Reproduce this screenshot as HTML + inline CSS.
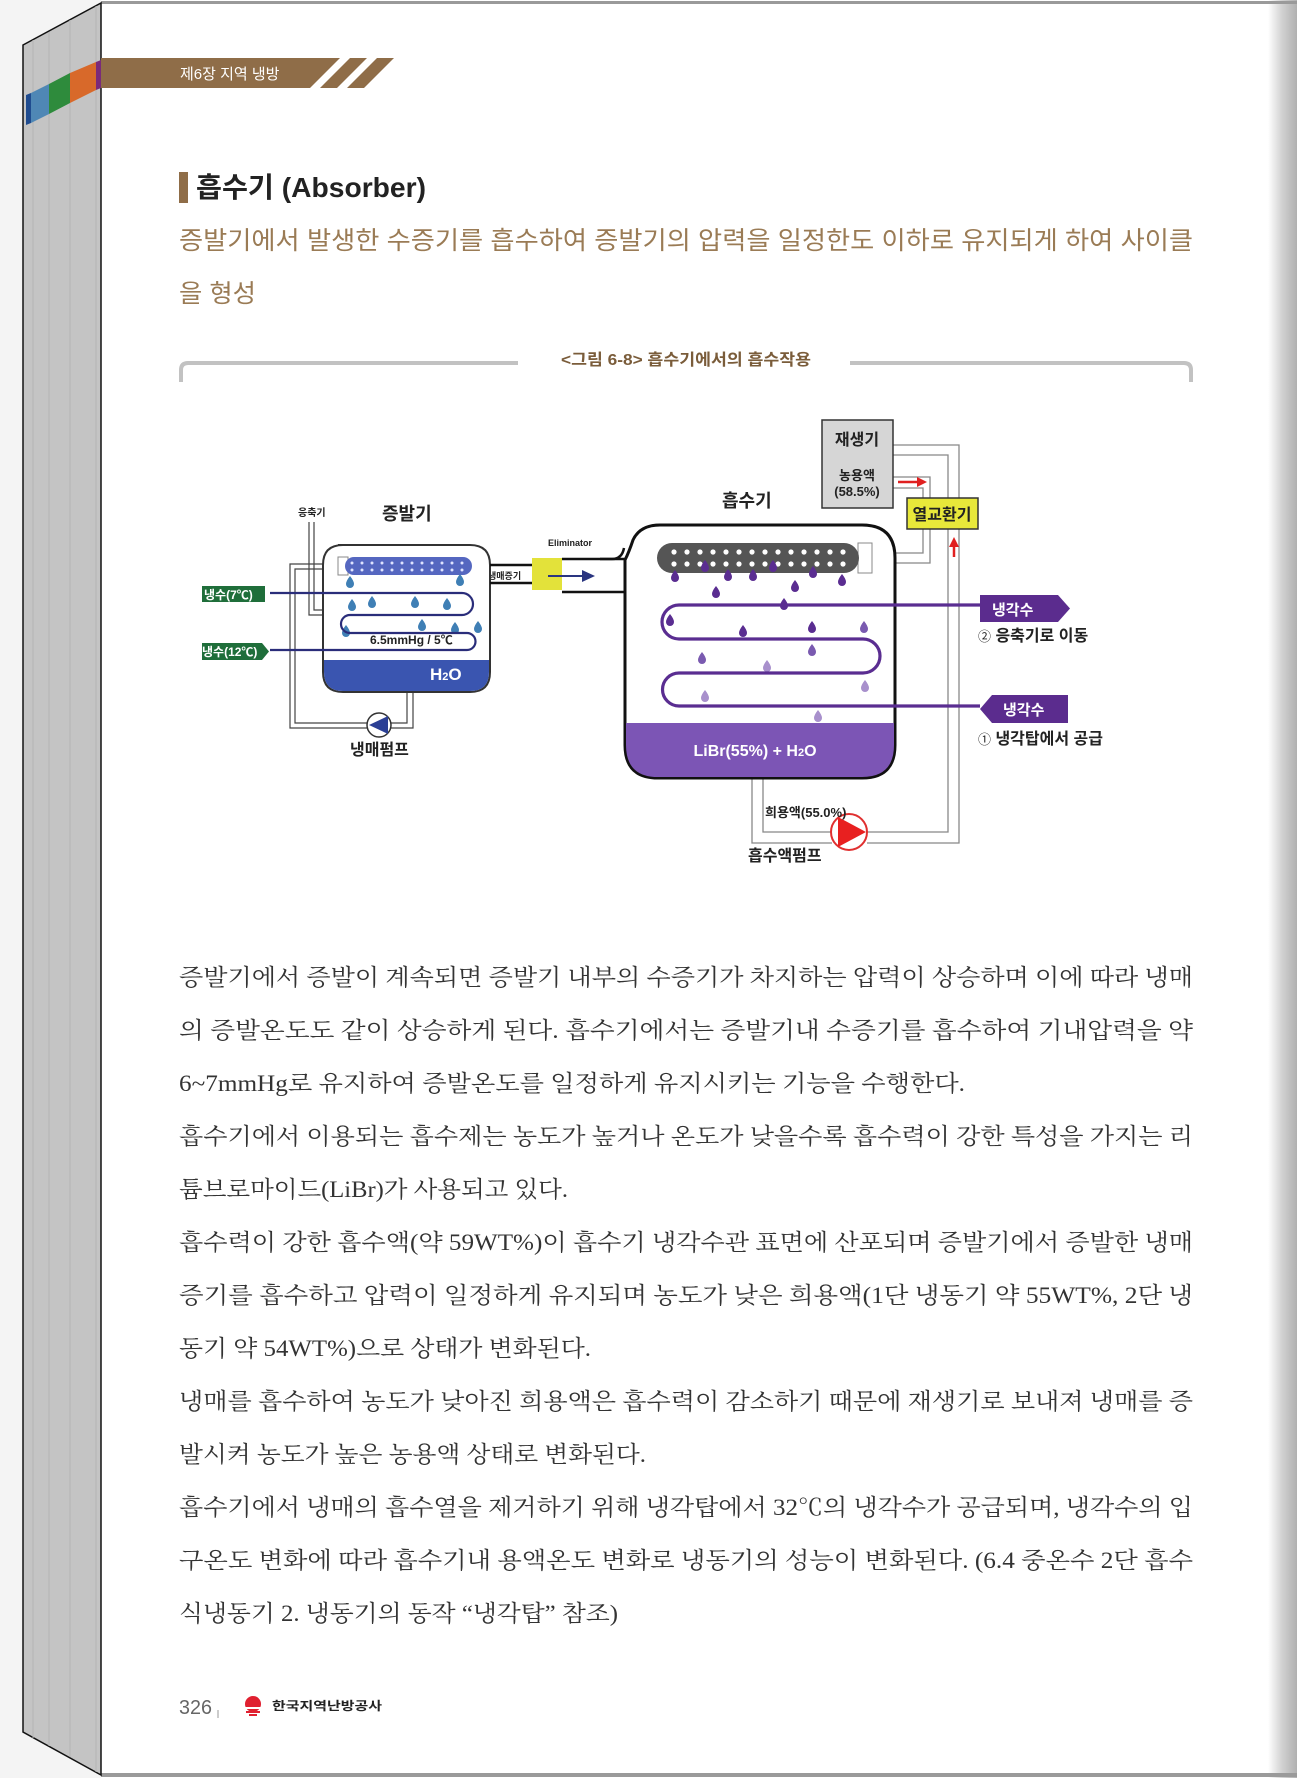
<!DOCTYPE html>
<html><head><meta charset="utf-8"><style>
html,body{margin:0;padding:0;background:#f4f4f4;}
svg{display:block;}
.kr{font-family:"Liberation Sans","Noto Sans CJK KR",sans-serif;}
.sr{font-family:"Liberation Serif","Noto Serif CJK SC",serif;}
</style></head><body>
<svg width="1297" height="1778" viewBox="0 0 1297 1778" xmlns="http://www.w3.org/2000/svg">
<defs>
<linearGradient id="rs" x1="0" x2="1" y1="0" y2="0"><stop offset="0" stop-color="#ffffff"/><stop offset="0.5" stop-color="#d0d0d0"/><stop offset="1" stop-color="#b0b0b0"/></linearGradient>
<path id="dp" d="M0,-6 Q4,-1 4,2 A4,4 0 0 1 -4,2 Q-4,-1 0,-6Z"/>
</defs>
<!-- page -->
<rect x="101" y="0" width="1196" height="1778" fill="#fff"/>
<rect x="1268" y="0" width="29" height="1778" fill="url(#rs)"/>
<rect x="101" y="1" width="1196" height="3" fill="#9a9a9a"/>
<rect x="101" y="1773" width="1196" height="4" fill="#9a9a9a"/>
<!-- spine -->
<polygon points="23,45 101,3 101,1775 23,1732" fill="#c4c4c4" stroke="#111" stroke-width="1.5"/>
<g stroke="#b5b5b5" stroke-width="1"><line x1="33" y1="40" x2="33" y2="1738"/><line x1="49" y1="32" x2="49" y2="1746"/><line x1="70" y1="20" x2="70" y2="1757"/><line x1="96" y1="6" x2="96" y2="1772"/></g>
<polygon points="26,95 31,93 31,123 26,125" fill="#1f4b8f"/>
<polygon points="31,93 49,84 49,114 31,123" fill="#4f87b5"/>
<polygon points="49,84 70,73 70,103 49,114" fill="#2e8b3c"/>
<polygon points="70,73 96,62 96,90 70,103" fill="#d8692a"/>
<polygon points="96,62 101,60 101,88 96,90" fill="#7a2a7a"/>
<!-- header band -->
<polygon points="101,58 340,58 310,88 101,88" fill="#8f6d48"/>
<polygon points="350,58 367,58 337,88 320,88" fill="#8f6d48"/>
<polygon points="377,58 394,58 364,88 347,88" fill="#8f6d48"/>
<text x="180" y="79" class="kr" font-size="15" fill="#fff">제6장 지역 냉방</text>
<!-- title -->
<rect x="179" y="172" width="9" height="31" fill="#8f6d48"/>
<text x="196" y="197" class="kr" font-size="28" font-weight="bold" fill="#222" textLength="230" lengthAdjust="spacingAndGlyphs">흡수기 (Absorber)</text>
<text x="179" y="249" class="kr" font-size="25" fill="#9a7b55" textLength="1014" lengthAdjust="spacingAndGlyphs">증발기에서 발생한 수증기를 흡수하여 증발기의 압력을 일정한도 이하로 유지되게 하여 사이클</text>
<text x="179" y="302" class="kr" font-size="25" fill="#9a7b55" textLength="77" lengthAdjust="spacingAndGlyphs">을 형성</text>
<!-- caption frame -->
<path d="M181,382 L181,370 Q181,363 188,363 L518,363" fill="none" stroke="#c2c2c2" stroke-width="4"/>
<path d="M850,363 L1184,363 Q1191,363 1191,370 L1191,382" fill="none" stroke="#c2c2c2" stroke-width="4"/>
<text x="561" y="365" class="kr" font-size="16" font-weight="bold" fill="#7a5c3a" textLength="250" lengthAdjust="spacingAndGlyphs">&lt;그림 6-8&gt; 흡수기에서의 흡수작용</text>

<!-- ===== Evaporator ===== -->
<g class="kr" font-weight="bold" fill="#222">
<text x="298" y="516" font-size="10">응축기</text>
<text x="382" y="520" font-size="18">증발기</text>
<text x="548" y="546" font-size="9">Eliminator</text>
<text x="488" y="579" font-size="9">냉매증기</text>
<text x="350" y="755" font-size="16">냉매펌프</text>
</g>
<!-- condenser pipes -->
<path d="M309,522 V615 H323 M314,522 V610 H323" fill="none" stroke="#444" stroke-width="1.2"/>
<!-- circulation pipes -->
<path d="M338,564 H290 V728 H367 M338,569 H295 V723 H367 M391,728 H413 V691 M391,723 H407 V691" fill="none" stroke="#444" stroke-width="1.2"/>
<!-- box -->
<path d="M338,545 H470 Q490,545 490,565 V672 Q490,692 470,692 H343 Q323,692 323,672 V565 Q323,545 343,545Z" fill="#fff" stroke="#333" stroke-width="2"/>
<path d="M324,660 H489 V672 Q489,691 470,691 H343 Q324,691 324,672Z" fill="#3a55b0"/>
<text x="430" y="680" class="kr" font-size="17" font-weight="bold" fill="#fff">H<tspan font-size="11">2</tspan>O</text>
<!-- spray tube -->
<rect x="338" y="557" width="10" height="18" fill="#fff" stroke="#888" stroke-width="1"/>
<rect x="345" y="557" width="127" height="18" rx="9" fill="#5567c0"/>
<g fill="#dfe4ff">
<circle cx="352" cy="563" r="1.5"/><circle cx="362" cy="563" r="1.5"/><circle cx="372" cy="563" r="1.5"/><circle cx="382" cy="563" r="1.5"/><circle cx="392" cy="563" r="1.5"/><circle cx="402" cy="563" r="1.5"/><circle cx="412" cy="563" r="1.5"/><circle cx="422" cy="563" r="1.5"/><circle cx="432" cy="563" r="1.5"/><circle cx="442" cy="563" r="1.5"/><circle cx="452" cy="563" r="1.5"/><circle cx="462" cy="563" r="1.5"/>
<circle cx="352" cy="570" r="1.5"/><circle cx="362" cy="570" r="1.5"/><circle cx="372" cy="570" r="1.5"/><circle cx="382" cy="570" r="1.5"/><circle cx="392" cy="570" r="1.5"/><circle cx="402" cy="570" r="1.5"/><circle cx="412" cy="570" r="1.5"/><circle cx="422" cy="570" r="1.5"/><circle cx="432" cy="570" r="1.5"/><circle cx="442" cy="570" r="1.5"/><circle cx="452" cy="570" r="1.5"/><circle cx="462" cy="570" r="1.5"/>
</g>
<g fill="#3f7fb5">
<use href="#dp" x="350" y="582"/><use href="#dp" x="372" y="602"/><use href="#dp" x="415" y="602"/><use href="#dp" x="447" y="604"/><use href="#dp" x="460" y="580"/><use href="#dp" x="455" y="628"/><use href="#dp" x="422" y="625"/><use href="#dp" x="346" y="631"/><use href="#dp" x="352" y="605"/><use href="#dp" x="478" y="627"/>
</g>
<!-- chilled water coil -->
<path d="M270,593 H462 A11,11 0 0 1 462,615 H350 A9,9 0 0 0 350,633 H467 A8.5,8.5 0 0 1 467,650 H270" fill="none" stroke="#2a2d7a" stroke-width="2.2"/>
<text x="370" y="644" class="kr" font-size="12" font-weight="bold" fill="#222">6.5mmHg / 5℃</text>
<polygon points="202,586 265,586 265,602 202,602" fill="#1f6e3a"/>
<text x="204" y="599" class="kr" font-size="12" font-weight="bold" fill="#fff">냉수(7℃)</text>
<polygon points="202,643 262,643 269,651.5 262,660 202,660" fill="#1f6e3a"/>
<text x="202" y="656" class="kr" font-size="12" font-weight="bold" fill="#fff">냉수(12℃)</text>
<!-- pump -->
<circle cx="379" cy="725" r="12" fill="#fff" stroke="#333" stroke-width="1.5"/>
<polygon points="369,725 388,716 388,734" fill="#2b3f95"/>
<!-- outlet pipe -->
<path d="M490,565 H532 M490,583 H532 M562,559 H625 M562,592 H625" stroke="#111" stroke-width="2.5"/>
<rect x="532" y="558" width="30" height="32" fill="#e3e23a"/>
<line x1="548" y1="576" x2="585" y2="576" stroke="#2a3580" stroke-width="2"/>
<polygon points="595,576 582,570 582,582" fill="#2a3580"/>

<!-- ===== Absorber ===== -->
<text x="722" y="507" class="kr" font-size="18" font-weight="bold" fill="#222">흡수기</text>
<!-- gray pipes -->
<g fill="none" stroke="#888" stroke-width="1.3">
<path d="M893,445 H959 V843 H867"/>
<path d="M893,455 H948 V832 H867"/>
<path d="M872,563 H930 V477 H893"/>
<path d="M872,553 H923 V488 H893"/>
<path d="M752,778 V843 H832 M763,778 V832 H832"/>
</g>
<!-- absorber box -->
<path d="M625,560 V745 Q625,778 658,778 H862 Q895,778 895,745 V558 Q895,525 862,525 H660 Q640,525 633,540 Q629,552 625,560Z" fill="#fff" stroke="#111" stroke-width="3"/>
<path d="M626,723 H894 V745 Q894,777 862,777 H658 Q626,777 626,745Z" fill="#7c55b5"/>
<text x="755" y="756" class="kr" font-size="16" font-weight="bold" fill="#fff" text-anchor="middle">LiBr(55%) + H<tspan font-size="11">2</tspan>O</text>
<path d="M600,559 H612 Q622,559 624,548" fill="none" stroke="#111" stroke-width="2.5"/>
<!-- gray tube -->
<rect x="858" y="543" width="14" height="30" fill="#fff" stroke="#888"/>
<rect x="657" y="543" width="202" height="30" rx="15" fill="#555"/>
<g fill="#fff">
<circle cx="674" cy="552" r="2.6"/><circle cx="687" cy="552" r="2.6"/><circle cx="700" cy="552" r="2.6"/><circle cx="713" cy="552" r="2.6"/><circle cx="726" cy="552" r="2.6"/><circle cx="739" cy="552" r="2.6"/><circle cx="752" cy="552" r="2.6"/><circle cx="765" cy="552" r="2.6"/><circle cx="778" cy="552" r="2.6"/><circle cx="791" cy="552" r="2.6"/><circle cx="804" cy="552" r="2.6"/><circle cx="817" cy="552" r="2.6"/><circle cx="830" cy="552" r="2.6"/><circle cx="843" cy="552" r="2.6"/>
<circle cx="674" cy="564" r="2.6"/><circle cx="687" cy="564" r="2.6"/><circle cx="700" cy="564" r="2.6"/><circle cx="713" cy="564" r="2.6"/><circle cx="726" cy="564" r="2.6"/><circle cx="739" cy="564" r="2.6"/><circle cx="752" cy="564" r="2.6"/><circle cx="765" cy="564" r="2.6"/><circle cx="778" cy="564" r="2.6"/><circle cx="791" cy="564" r="2.6"/><circle cx="804" cy="564" r="2.6"/><circle cx="817" cy="564" r="2.6"/><circle cx="830" cy="564" r="2.6"/><circle cx="843" cy="564" r="2.6"/>
</g>
<g fill="#5a2d91">
<use href="#dp" x="675" y="576"/><use href="#dp" x="705" y="566"/><use href="#dp" x="728" y="575"/><use href="#dp" x="753" y="575"/><use href="#dp" x="773" y="566"/><use href="#dp" x="813" y="572"/><use href="#dp" x="842" y="580"/><use href="#dp" x="716" y="592"/><use href="#dp" x="795" y="586"/><use href="#dp" x="784" y="604"/><use href="#dp" x="670" y="620"/><use href="#dp" x="743" y="631"/><use href="#dp" x="812" y="627"/>
</g>
<g fill="#7a5ab0"><use href="#dp" x="864" y="627"/><use href="#dp" x="812" y="650"/><use href="#dp" x="702" y="658"/></g>
<g fill="#a890cc"><use href="#dp" x="767" y="666"/><use href="#dp" x="865" y="686"/><use href="#dp" x="705" y="696"/><use href="#dp" x="818" y="716"/></g>
<!-- coil -->
<path d="M980,605 H679 A17,17 0 0 0 679,639 H863 A17,17 0 0 1 863,673 H679 A16.5,16.5 0 0 0 679,706 H980" fill="none" stroke="#5a2d91" stroke-width="3.2"/>
<polygon points="980,595 1058,595 1070,608.5 1058,622 980,622" fill="#5b2c8e"/>
<text x="992" y="615" class="kr" font-size="15" font-weight="bold" fill="#fff">냉각수</text>
<polygon points="992,695 1068,695 1068,723 992,723 980,709" fill="#5b2c8e"/>
<text x="1003" y="715" class="kr" font-size="15" font-weight="bold" fill="#fff">냉각수</text>
<text x="1005" y="641" class="kr" font-size="16" font-weight="bold" fill="#222"><tspan font-weight="normal" font-size="13" x="978">②</tspan> 응축기로 이동</text>
<text x="1005" y="744" class="kr" font-size="16" font-weight="bold" fill="#222"><tspan font-weight="normal" font-size="13" x="978">①</tspan> 냉각탑에서 공급</text>
<!-- regenerator -->
<rect x="822" y="420" width="71" height="88" fill="#d6d6d6" stroke="#333" stroke-width="1.5"/>
<text x="857" y="445" class="kr" font-size="16" font-weight="bold" fill="#222" text-anchor="middle">재생기</text>
<text x="857" y="480" class="kr" font-size="13" font-weight="bold" fill="#222" text-anchor="middle">농용액</text>
<text x="857" y="496" class="kr" font-size="13" font-weight="bold" fill="#222" text-anchor="middle">(58.5%)</text>
<line x1="898" y1="482" x2="918" y2="482" stroke="#e02020" stroke-width="2.5"/>
<polygon points="927,482 917,477 917,487" fill="#e02020"/>
<rect x="907" y="498" width="71" height="31" fill="#e8e83a" stroke="#333" stroke-width="1.5"/>
<text x="942" y="520" class="kr" font-size="16" font-weight="bold" fill="#222" text-anchor="middle">열교환기</text>
<line x1="954" y1="557" x2="954" y2="545" stroke="#e02020" stroke-width="2.5"/>
<polygon points="954,537 949,547 959,547" fill="#e02020"/>
<!-- pump -->
<circle cx="849" cy="832" r="18" fill="#fff" stroke="#e03030" stroke-width="2"/>
<polygon points="838,817 866,832 838,847" fill="#e82020"/>
<text x="765" y="817" class="kr" font-size="13" font-weight="bold" fill="#222">희용액(55.0%)</text>
<text x="748" y="861" class="kr" font-size="16" font-weight="bold" fill="#222">흡수액펌프</text>

<!-- body text -->
<g class="sr" font-size="23" fill="#333">
<text x="179" y="985" textLength="1014" lengthAdjust="spacingAndGlyphs">증발기에서 증발이 계속되면 증발기 내부의 수증기가 차지하는 압력이 상승하며 이에 따라 냉매</text>
<text x="179" y="1038" textLength="1014" lengthAdjust="spacingAndGlyphs">의 증발온도도 같이 상승하게 된다. 흡수기에서는 증발기내 수증기를 흡수하여 기내압력을 약</text>
<text x="179" y="1091" textLength="786" lengthAdjust="spacingAndGlyphs">6~7mmHg로 유지하여 증발온도를 일정하게 유지시키는 기능을 수행한다.</text>
<text x="179" y="1144" textLength="1014" lengthAdjust="spacingAndGlyphs">흡수기에서 이용되는 흡수제는 농도가 높거나 온도가 낮을수록 흡수력이 강한 특성을 가지는 리</text>
<text x="179" y="1197" textLength="389" lengthAdjust="spacingAndGlyphs">튬브로마이드(LiBr)가 사용되고 있다.</text>
<text x="179" y="1250" textLength="1014" lengthAdjust="spacingAndGlyphs">흡수력이 강한 흡수액(약 59WT%)이 흡수기 냉각수관 표면에 산포되며 증발기에서 증발한 냉매</text>
<text x="179" y="1303" textLength="1014" lengthAdjust="spacingAndGlyphs">증기를 흡수하고 압력이 일정하게 유지되며 농도가 낮은 희용액(1단 냉동기 약 55WT%, 2단 냉</text>
<text x="179" y="1356" textLength="412" lengthAdjust="spacingAndGlyphs">동기 약 54WT%)으로 상태가 변화된다.</text>
<text x="179" y="1409" textLength="1014" lengthAdjust="spacingAndGlyphs">냉매를 흡수하여 농도가 낮아진 희용액은 흡수력이 감소하기 때문에 재생기로 보내져 냉매를 증</text>
<text x="179" y="1462" textLength="467" lengthAdjust="spacingAndGlyphs">발시켜 농도가 높은 농용액 상태로 변화된다.</text>
<text x="179" y="1515" textLength="1014" lengthAdjust="spacingAndGlyphs">흡수기에서 냉매의 흡수열을 제거하기 위해 냉각탑에서 32℃의 냉각수가 공급되며, 냉각수의 입</text>
<text x="179" y="1568" textLength="1014" lengthAdjust="spacingAndGlyphs">구온도 변화에 따라 흡수기내 용액온도 변화로 냉동기의 성능이 변화된다. (6.4 중온수 2단 흡수</text>
<text x="179" y="1621" textLength="439" lengthAdjust="spacingAndGlyphs">식냉동기 2. 냉동기의 동작 “냉각탑” 참조)</text>
</g>
<!-- footer -->
<text x="179" y="1714" class="kr" font-size="20" fill="#666" textLength="33" lengthAdjust="spacingAndGlyphs">326</text>
<line x1="218" y1="1710" x2="218" y2="1718" stroke="#999" stroke-width="1"/>
<circle cx="253" cy="1704" r="8" fill="#e02030"/>
<rect x="243" y="1707" width="20" height="2" fill="#fff"/>
<rect x="246" y="1711" width="14" height="2" fill="#e02030"/>
<rect x="249" y="1714" width="8" height="2" fill="#e02030"/>
<text x="272" y="1710" class="kr" font-size="12" font-weight="bold" fill="#222" textLength="110" lengthAdjust="spacingAndGlyphs">한국지역난방공사</text>
</svg>
</body></html>
